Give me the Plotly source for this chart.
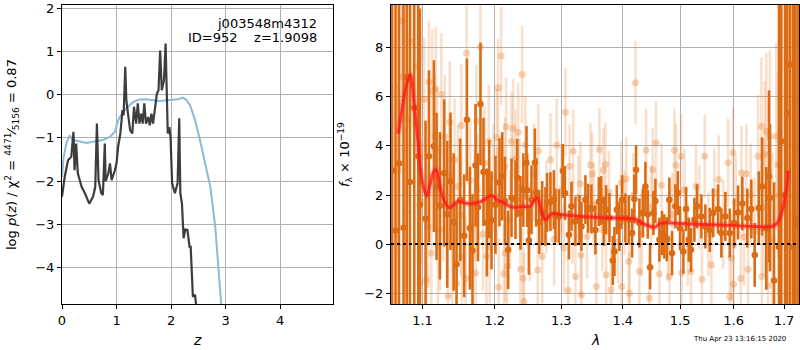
import numpy as np
import plotly.graph_objects as go

# ---------------- left panel: log p(z) and chi2 ----------------
pz_z = [0.0, 0.05, 0.11, 0.17, 0.21, 0.23, 0.26, 0.29, 0.36, 0.42, 0.50, 0.57, 0.61, 0.64,
        0.67, 0.72, 0.75, 0.785, 0.80, 0.85, 0.88, 0.91, 0.97, 1.0, 1.03, 1.07, 1.11, 1.13,
        1.16, 1.18, 1.21, 1.25, 1.29, 1.32, 1.36, 1.39, 1.42, 1.45, 1.48, 1.51, 1.54, 1.58,
        1.61, 1.64, 1.67, 1.71, 1.74, 1.77, 1.80, 1.83, 1.87, 1.90, 1.92, 1.94, 1.97, 1.99,
        2.02, 2.07, 2.12, 2.15, 2.17, 2.20, 2.23, 2.26, 2.30, 2.34, 2.36, 2.40, 2.44, 2.46, 2.52]
pz_logp = [-2.36, -1.90, -1.52, -1.44, -0.86, -1.75, -1.13, -1.82, -2.13, -2.28, -2.52, -2.36,
           -2.13, -0.67, -1.98, -2.28, -2.32, -1.13, -2.00, -1.82, -1.59, -1.98, -1.75, -1.59,
           -1.20, -0.90, -0.36, -0.48, 0.64, -0.13, -0.44, -0.82, -0.90, -0.28, -0.67, -0.20,
           -0.67, -0.44, -0.67, -0.20, -0.67, -0.52, -0.71, -0.44, -0.67, -0.28, 0.02, 0.10,
           1.02, 0.10, 0.33, 1.18, 0.18, -0.90, -0.75, -0.98, -2.05, -2.28, -2.05, -0.55,
           -2.28, -2.52, -3.32, -3.12, -3.13, -3.52, -3.52, -4.67, -4.63, -4.82, -5.60]

chi_z = [0.0, 0.03, 0.08, 0.14, 0.20, 0.33, 0.45, 0.57, 0.75, 0.88, 0.97, 1.03, 1.12, 1.21,
         1.31, 1.40, 1.52, 1.67, 1.80, 1.92, 2.04, 2.13, 2.21, 2.28, 2.35, 2.44, 2.53, 2.63,
         2.72, 2.81, 2.87, 2.92, 2.96]
chi_val = [-1.90, -1.44, -1.13, -0.94, -1.05, -1.09, -1.12, -1.09, -1.05, -0.98, -0.86, -0.59,
           -0.40, -0.28, -0.17, -0.12, -0.11, -0.13, -0.15, -0.13, -0.12, -0.11, -0.07, -0.12,
           -0.25, -0.59, -1.05, -1.59, -2.13, -3.05, -3.98, -4.82, -5.50]

# ---------------- right panel: spectrum ----------------
dark_wave = [1.0604, 1.0648, 1.0692, 1.0751, 1.0792, 1.0834, 1.0891, 1.0943, 1.0966, 1.1040,
             1.1085, 1.1152, 1.1187, 1.1233, 1.1290, 1.1332, 1.1377, 1.1420, 1.1460, 1.1510,
             1.1566, 1.1604, 1.1646, 1.1682, 1.1725, 1.1760, 1.1795, 1.1838, 1.1887, 1.1920,
             1.1953, 1.2010, 1.2068, 1.2108, 1.2147, 1.2195, 1.2244, 1.2303, 1.2328, 1.2377,
             1.2420, 1.2467, 1.2477, 1.2503, 1.2542, 1.2594, 1.2613, 1.2660, 1.2705, 1.2755,
             1.2781, 1.2832, 1.2885, 1.2910, 1.2963, 1.3025, 1.3057, 1.3120, 1.3161, 1.3224,
             1.3288, 1.3320, 1.3384, 1.3428, 1.3481, 1.3546, 1.3602, 1.3640, 1.3684, 1.3722,
             1.3777, 1.3833, 1.3860, 1.3900, 1.3943, 1.3989, 1.4044, 1.4102, 1.4158, 1.4197,
             1.4226, 1.4283, 1.4342, 1.4387, 1.4428, 1.4468, 1.4526, 1.4561, 1.4631, 1.4678,
             1.4719, 1.4762, 1.4808, 1.4856, 1.4916, 1.4959, 1.5000, 1.5060, 1.5109, 1.5158,
             1.5200, 1.5261, 1.5310, 1.5390, 1.5464, 1.5546, 1.5608, 1.5702, 1.5765, 1.5841,
             1.5925, 1.6008, 1.6085, 1.6168, 1.6266, 1.6344, 1.6411, 1.6491, 1.6556, 1.6642,
             1.6696, 1.6716, 1.6797, 1.6898, 1.6945, 1.7021, 1.7068, 1.7124, 1.7186, 1.7233,
             1.7283]
dark_flux = [3.00, 0.55, 3.28, 0.67, 6.80, 2.53, 5.55, 3.58, 1.60, 1.03,
             3.58, 3.99, 2.35, 1.56, 2.90, 1.22, 2.56, 0.90, -0.82, 1.80,
             0.34, 5.07, 0.65, -0.26, 3.21, 1.50, 5.71, 2.94, 0.88, 2.24,
             0.97, 1.60, 2.52, 2.76, 1.76, -0.23, 1.89, 1.81, 2.69, 1.27,
             2.20, 3.31, 2.19, 0.15, 1.81, 3.31, 2.11, 0.90, 1.27, 1.13,
             1.70, 1.73, 1.81, 1.16, 1.13, 2.98, 2.08, 0.38, 1.54, 0.93,
             0.99, 0.72, 1.81, 1.46, 1.43, 0.58, 1.73, 1.77, 0.93, 1.40,
             1.07, -0.67, -0.30, 1.40, 0.72, 1.81, 1.06, 0.99, 0.45, 1.84,
             3.03, 0.86, 1.27, 2.35, 1.22, -0.94, 1.27, 1.76, 0.18, 0.45,
             0.31, 0.20, 1.81, -0.37, 1.54, 2.08, 0.65, -0.30, 1.43, 0.18,
             -0.23, 0.99, 1.54, 1.13, 0.72, 0.58, 1.27, 1.43, 0.45, 1.13,
             0.45, 0.86, 1.29, 1.65, 1.06, 1.43, -0.44, 1.47, 2.35, 0.64,
             2.76, 1.89, -1.48, -0.12, 4.19, 2.00, 5.32, 7.32, -0.12, 0.78,
             1.00]
dark_err = [15, 15, 15, 15, 15, 15, 15, 15, 8, 4,
            3.5, 3.5, 3.0, 3.0, 3.0, 3.0, 2.8, 2.8, 2.5, 2.5,
            2.5, 2.5, 2.5, 2.3, 2.5, 2.2, 2.5, 2.2, 2.2, 2.0,
            2.0, 2.0, 1.8, 1.8, 1.8, 1.6, 1.6, 1.6, 1.6, 1.5,
            1.5, 1.5, 1.5, 1.4, 1.4, 1.4, 1.4, 1.3, 1.3, 1.2,
            1.2, 1.2, 1.2, 1.1, 1.1, 1.1, 1.1, 1.0, 1.0, 1.0,
            1.0, 1.0, 1.0, 1.0, 1.0, 1.0, 1.0, 1.0, 1.0, 1.0,
            1.0, 1.0, 1.0, 1.0, 1.0, 1.0, 1.0, 1.0, 1.0, 1.0,
            1.0, 1.0, 1.0, 1.0, 1.0, 0.9, 0.9, 0.9, 0.9, 0.9,
            0.9, 0.9, 0.9, 0.9, 0.9, 0.9, 0.9, 0.9, 0.9, 0.9,
            0.9, 0.9, 0.9, 0.9, 0.9, 0.9, 1.0, 1.0, 1.0, 1.0,
            1.0, 1.0, 1.1, 1.1, 1.2, 1.2, 1.3, 1.5, 2.0, 2.5,
            3.5, 3.0, 4.0, 15, 15, 15, 15, 15, 15, 15,
            15]

light_wave = [1.0683, 1.0725, 1.0734, 1.0777, 1.0803, 1.0856, 1.0934, 1.0966, 1.0986, 1.1021,
              1.1051, 1.1074, 1.1085, 1.1118, 1.1128, 1.1163, 1.1177, 1.1198, 1.1207, 1.1233,
              1.1252, 1.1280, 1.1299, 1.1343, 1.1366, 1.1370, 1.1397, 1.1433, 1.1460, 1.1480,
              1.1520, 1.1525, 1.1535, 1.1587, 1.1600, 1.1650, 1.1712, 1.1725, 1.1738, 1.1752,
              1.1795, 1.1830, 1.1853, 1.1880, 1.1913, 1.1927, 1.1980, 1.2030, 1.2035, 1.2048,
              1.2057, 1.2093, 1.2132, 1.2147, 1.2155, 1.2165, 1.2180, 1.2220, 1.2244, 1.2268,
              1.2303, 1.2343, 1.2360, 1.2377, 1.2402, 1.2416, 1.2431, 1.2451, 1.2520, 1.2580,
              1.2636, 1.2646, 1.2705, 1.2770, 1.2832, 1.2890, 1.2930, 1.3000, 1.3041, 1.3066,
              1.3109, 1.3130, 1.3180, 1.3188, 1.3224, 1.3270, 1.3304, 1.3312, 1.3320, 1.3410,
              1.3465, 1.3492, 1.3520, 1.3562, 1.3611, 1.3660, 1.3677, 1.3710, 1.3722, 1.3770,
              1.3805, 1.3920, 1.3973, 1.3981, 1.4030, 1.4058, 1.4102, 1.4113, 1.4180, 1.4215,
              1.4283, 1.4320, 1.4398, 1.4455, 1.4490, 1.4514, 1.4571, 1.4631, 1.4670, 1.4780,
              1.4808, 1.4860, 1.4898, 1.4928, 1.5018, 1.5027, 1.5080, 1.5140, 1.5200, 1.5291,
              1.5350, 1.5401, 1.5452, 1.5520, 1.5576, 1.5630, 1.5715, 1.5800, 1.5893, 1.5925,
              1.5956, 1.5989, 1.5999, 1.6040, 1.6138, 1.6150, 1.6200, 1.6248, 1.6281, 1.6330,
              1.6410, 1.6477, 1.6543, 1.6553, 1.6590, 1.6611, 1.6642, 1.6676, 1.6710, 1.6760,
              1.6843, 1.6877, 1.6900]
light_flux = [3.0, 6.8, 9.1, 1.3, 5.1, 8.25, 7.25, -1.6, 1.74, 5.9,
              -1.46, 0.72, 6.6, -0.37, 6.23, 4.4, 6.33, 3.85, -0.1, 0.59,
              6.1, 1.8, 4.39, -2.11, 4.97, 2.8, 0.04, 3.44, -1.59, 2.35,
              1.2, 4.83, -0.5, -1.39, 7.77, 2.6, 1.6, -1.18, 5.0, 2.22,
              8.03, 0.4, 3.31, -0.5, 4.19, -0.1, 2.7, 4.33, 1.95, 6.37,
              -1.76, 7.66, -1.21, 3.17, -0.37, 4.78, -0.91, 1.0, 4.18, 4.72,
              3.47, 4.56, 2.3, -1.02, 6.91, -1.39, -2.34, 4.04, 0.5, 2.9,
              -1.05, 3.80, -0.5, 1.5, 3.44, 0.2, 4.04, 2.2, -0.16, 5.37,
              -1.89, 3.17, 0.9, 3.78, -1.32, 1.9, 2.46, -0.44, -2.07, 0.3,
              3.22, 2.87, 1.6, -1.73, 3.85, 0.6, 3.01, 3.24, -1.25, 2.1,
              -1.86, 0.1, 2.49, -1.73, 1.3, 2.65, -0.71, -2.0, 2.0, 6.57,
              -1.12, 0.4, 3.82, -2.20, 1.5, 3.03, 4.12, -1.22, 2.4, 0.2,
              -1.32, 1.2, 3.82, 3.21, 3.58, -1.18, 2.2, 0.0, -1.12, 2.35,
              1.5, -1.43, 3.58, 0.4, -0.84, 2.1, 2.63, 0.8, 3.31, -2.14,
              -0.57, 3.72, -1.63, 1.7, -1.40, 2.90, 0.3, 2.87, -1.02, 2.0,
              0.5, 3.58, 4.80, -1.32, 1.5, 3.65, 4.60, -1.70, 4.39, 0.2,
              4.39, 3.24, 2.0]
light_err = [3.5, 3.5, 3.5, 3.5, 3.5, 3.5, 3.5, 2.5, 2.5, 2.5,
             2.5, 2.5, 2.5, 2.5, 2.5, 2.5, 2.5, 2.5, 2.5, 2.5,
             2.5, 2.5, 2.5, 2.5, 2.5, 2.5, 2.5, 2.5, 2.5, 2.5,
             2.5, 2.5, 2.5, 2.5, 2.5, 2.5, 2.3, 2.3, 2.3, 2.3,
             2.3, 2.3, 2.3, 2.3, 2.3, 2.3, 2.2, 2.0, 2.0, 2.0,
             2.0, 2.0, 2.0, 2.0, 2.0, 2.0, 2.0, 2.0, 2.0, 2.0,
             2.0, 2.0, 2.0, 2.0, 2.0, 2.0, 2.0, 2.0, 2.0, 2.0,
             1.9, 1.9, 1.9, 1.9, 1.9, 1.9, 1.9, 1.8, 1.8, 1.8,
             1.7, 1.7, 1.7, 1.7, 1.7, 1.7, 1.7, 1.7, 1.7, 1.7,
             1.7, 1.7, 1.7, 1.7, 1.7, 1.7, 1.7, 1.7, 1.7, 1.7,
             1.7, 1.7, 1.7, 1.7, 1.7, 1.7, 1.7, 1.7, 1.7, 1.7,
             1.7, 1.7, 1.7, 1.7, 1.7, 1.7, 1.7, 1.7, 1.7, 1.7,
             1.7, 1.7, 1.7, 1.7, 1.7, 1.7, 1.7, 1.7, 1.7, 1.7,
             1.7, 1.7, 1.7, 1.7, 1.7, 1.8, 1.8, 1.8, 1.8, 1.8,
             1.8, 1.8, 1.8, 1.9, 1.9, 1.9, 2.0, 2.0, 2.0, 2.1,
             2.2, 2.5, 2.8, 2.8, 2.8, 3.0, 3.2, 3.0, 3.5, 3.5,
             3.8, 3.8, 4.0]

model_wave = [1.0684, 1.0747, 1.0800, 1.0840, 1.0880, 1.0937, 1.0983, 1.1034, 1.1057, 1.1100,
              1.1140, 1.1180, 1.1220, 1.1255, 1.1300, 1.1367, 1.1420, 1.1478, 1.1566, 1.1650,
              1.1790, 1.1876, 1.1934, 1.1977, 1.2030, 1.2122, 1.2224, 1.2328, 1.2416, 1.2522,
              1.2568, 1.2624, 1.2660, 1.2705, 1.2751, 1.2797, 1.2855, 1.3033, 1.3570, 1.4127,
              1.4226, 1.4325, 1.4433, 1.4555, 1.4640, 1.5000, 1.5931, 1.6716, 1.6817, 1.6882,
              1.6940, 1.6986, 1.7026, 1.7054, 1.7086]
model_flux = [4.50, 5.80, 6.60, 6.90, 6.00, 4.26, 2.80, 2.09, 1.97, 2.40,
              2.90, 3.03, 2.60, 2.09, 1.70, 1.48, 1.60, 1.74, 1.68, 1.64,
              1.72, 1.86, 1.97, 1.95, 1.80, 1.70, 1.53, 1.50, 1.53, 1.55,
              1.70, 1.90, 1.70, 1.25, 0.99, 1.10, 1.24, 1.19, 1.09, 1.04,
              1.00, 0.86, 0.75, 0.69, 0.84, 0.84, 0.76, 0.71, 0.78, 0.91,
              1.20, 1.53, 2.00, 2.27, 2.99]

z_ticks = [0, 1, 2, 3, 4]
logp_ticks = [-4, -3, -2, -1, 0, 1, 2]
lam_ticks = [1.1, 1.2, 1.3, 1.4, 1.5, 1.6, 1.7]
flux_ticks = [-2, 0, 2, 4, 6, 8]

obj_name = "j003548m4312"
obj_info = "ID=952    z=1.9098"
timestamp = "Thu Apr 23 13:16:15 2020"

FONT = "DejaVu Sans"
DARK = "rgb(220,108,20)"
LIGHT_BAR = "rgba(232,130,50,0.25)"
LIGHT_DOT = "rgba(232,130,50,0.35)"

fig = go.Figure()

# left panel
fig.add_trace(go.Scatter(x=chi_z, y=chi_val, mode="lines",
                         line=dict(color="rgb(140,186,218)", width=2),
                         xaxis="x", yaxis="y", showlegend=False))
fig.add_trace(go.Scatter(x=pz_z, y=pz_logp, mode="lines",
                         line=dict(color="rgba(40,40,40,0.9)", width=2.2),
                         xaxis="x", yaxis="y", showlegend=False))

# right panel
fig.add_trace(go.Scatter(x=light_wave, y=light_flux, mode="markers",
                         marker=dict(color=LIGHT_DOT, size=7, line=dict(width=0)),
                         error_y=dict(type="data", array=light_err, color=LIGHT_BAR,
                                      thickness=2.6, width=0),
                         xaxis="x2", yaxis="y2", showlegend=False))
fig.add_trace(go.Scatter(x=dark_wave, y=dark_flux, mode="markers",
                         marker=dict(color=DARK, size=6.5, line=dict(width=0)),
                         error_y=dict(type="data", array=dark_err, color=DARK,
                                      thickness=2.6, width=0),
                         xaxis="x2", yaxis="y2", showlegend=False))
fig.add_trace(go.Scatter(x=model_wave, y=model_flux, mode="lines",
                         line=dict(color="rgba(255,40,40,0.25)", width=6, shape="spline"),
                         xaxis="x2", yaxis="y2", showlegend=False))
fig.add_trace(go.Scatter(x=model_wave, y=model_flux, mode="lines",
                         line=dict(color="rgba(255,20,20,0.75)", width=2.8, shape="spline"),
                         xaxis="x2", yaxis="y2", showlegend=False))

axis_common = dict(showgrid=True, gridcolor="#b0b0b0", gridwidth=1, zeroline=False,
                   showline=True, linecolor="black", linewidth=1, mirror=True,
                   ticks="outside", ticklen=4, tickcolor="black", automargin=False,
                   tickfont=dict(family=FONT, size=13, color="black"))

fig.update_layout(
    width=800, height=350,
    margin=dict(l=0, r=0, t=0, b=0, pad=0, autoexpand=False),
    paper_bgcolor="white", plot_bgcolor="white",
    font=dict(family=FONT, size=13, color="black"),
    xaxis=dict(domain=[0.0775, 0.41625], range=[0, 4.97], tickvals=z_ticks,
               anchor="y", **axis_common),
    yaxis=dict(domain=[0.1314, 0.9857], range=[-4.84, 2.07], tickvals=logp_ticks,
               anchor="x", **axis_common),
    xaxis2=dict(domain=[0.48875, 0.99875], type="log",
                range=[np.log10(1.059), np.log10(1.731)],
                tickvals=lam_ticks, ticktext=[f"{v:.1f}" for v in lam_ticks],
                anchor="y2", **axis_common),
    yaxis2=dict(domain=[0.1314, 0.9857], range=[-2.44, 9.74], tickvals=flux_ticks,
                anchor="x2", **axis_common),
    showlegend=False,
)

fig.add_shape(type="line", xref="x2 domain", yref="y2", x0=0, x1=1, y0=0, y1=0,
              line=dict(color="black", width=2, dash="dot"))

annots = [
    dict(x=0.3988, y=1 - 23 / 350, text=obj_name, xanchor="right", yanchor="middle",
         font=dict(size=13)),
    dict(x=0.3988, y=1 - 38 / 350, text=obj_info, xanchor="right", yanchor="middle",
         font=dict(size=13)),
    dict(x=12 / 800, y=1 - 155 / 350, textangle=-90, xanchor="center", yanchor="middle",
         text="log <i>p</i>(<i>z</i>) / χ<sup>2</sup> = <sup>4471</sup>⁄<sub>5156</sub> = 0.87",
         font=dict(size=13)),
    dict(x=197 / 800, y=1 - 340 / 350, text="<i>z</i>", xanchor="center", yanchor="middle",
         font=dict(size=14)),
    dict(x=345 / 800, y=1 - 155 / 350, textangle=-90, xanchor="center", yanchor="middle",
         text="<i>f</i><sub>λ</sub> × 10<sup>−19</sup>", font=dict(size=13)),
    dict(x=595 / 800, y=1 - 340 / 350, text="<i>λ</i>", xanchor="center", yanchor="middle",
         font=dict(size=14)),
    dict(x=788 / 800, y=1 - 339 / 350, text=timestamp, xanchor="right", yanchor="middle",
         font=dict(size=7)),
]
for a in annots:
    fig.add_annotation(xref="paper", yref="paper", showarrow=False, **a)

fig.write_html("out.html", config={"displayModeBar": False},
               post_script="document.body.style.margin='0';"
                           "document.body.style.overflow='hidden';")
